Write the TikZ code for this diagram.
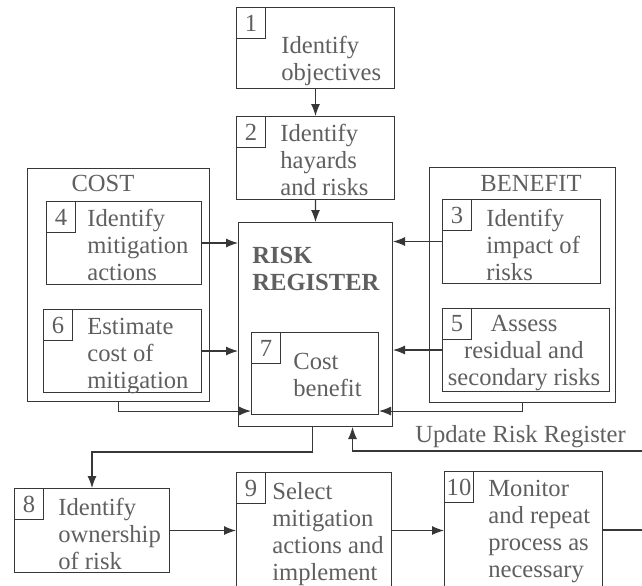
\documentclass[tikz,border=0pt]{standalone}
\usepackage{fontspec}
\setmainfont{Liberation Serif}
\usetikzlibrary{arrows.meta}
\definecolor{txtgray}{RGB}{95,95,95}
\definecolor{linegray}{RGB}{55,55,55}
\begin{document}
\begin{tikzpicture}[
                x = 0.02cm, y = -0.02cm,
                box/.style = {draw = linegray, line width = 0.6pt, anchor = north west, inner sep = 0mm},
                num/.style = {draw = linegray, line width = 0.6pt, anchor = north west, inner sep = 0mm,
                              minimum width = 0.58cm, minimum height = 0.62cm, text = txtgray,
                              font = \fontsize{14}{15.4}\selectfont},
                txt/.style = {anchor = north west, align = left, inner sep = 0mm, text = txtgray,
                              font = \fontsize{14}{15.4}\selectfont},
                arr/.style = {draw = linegray, line width = 0.6pt, -{Latex[length = 2.4mm, width = 1.8mm]}},
                ln/.style = {draw = linegray, line width = 0.6pt},
            ]
            \useasboundingbox (0,0) rectangle (642,585);

            % top column
            \node (b1) [box, minimum width = 3.16cm, minimum height = 1.62cm] at (236,7) {};
            \node (n1) [num] at (b1.north west) {1};
            \node (t1) [txt] at (281,36) {Identify\\objectives};

            \node (b2) [box, minimum width = 3.16cm, minimum height = 1.66cm] at (236,116) {};
            \node (n2) [num] at (b2.north west) {2};
            \node (t2) [txt] at (280,124) {Identify\\hayards\\and risks};

            % risk register
            \node (rr) [box, minimum width = 3.08cm, minimum height = 4.08cm] at (238,222) {};
            \node (trr) [txt, font = \fontsize{14}{15.4}\selectfont\bfseries] at (252,247) {RISK\\REGISTER};
            \node (b7) [box, minimum width = 2.54cm, minimum height = 1.64cm] at (251,332) {};
            \node (n7) [num] at (b7.north west) {7};
            \node (t7) [txt] at (293,353) {Cost\\benefit};

            % cost side
            \node (cost) [box, minimum width = 3.64cm, minimum height = 4.66cm] at (27,168) {};
            \node (tcost) [txt, anchor = north] at (103,175) {COST};
            \node (b4) [box, minimum width = 3.10cm, minimum height = 1.66cm] at (46,201) {};
            \node (n4) [num] at (b4.north west) {4};
            \node (t4) [txt] at (87,209) {Identify\\mitigation\\actions};
            \node (b6) [box, minimum width = 3.16cm, minimum height = 1.66cm] at (43,309) {};
            \node (n6) [num] at (b6.north west) {6};
            \node (t6) [txt] at (87,318) {Estimate\\cost of\\mitigation};

            % benefit side
            \node (ben) [box, minimum width = 3.72cm, minimum height = 4.70cm] at (429,167) {};
            \node (tben) [txt, anchor = north] at (531,175) {BENEFIT};
            \node (b3) [box, minimum width = 3.16cm, minimum height = 1.68cm] at (442,199) {};
            \node (n3) [num] at (b3.north west) {3};
            \node (t3) [txt] at (486,209) {Identify\\impact of\\risks};
            \node (b5) [box, minimum width = 3.34cm, minimum height = 1.66cm] at (442,308) {};
            \node (n5) [num] at (b5.north west) {5};
            \node (t5) [txt, anchor = north, align = center] at (524,315) {Assess\\residual and\\secondary risks};

            % bottom row
            \node (b8) [box, minimum width = 3.10cm, minimum height = 1.68cm] at (14,488) {};
            \node (n8) [num] at (b8.north west) {8};
            \node (t8) [txt] at (58,498) {Identify\\ownership\\of risk};
            \node (b9) [box, minimum width = 3.10cm, minimum height = 2.56cm] at (236,472) {};
            \node (n9) [num] at (b9.north west) {9};
            \node (t9) [txt] at (272,482) {Select\\mitigation\\actions and\\implement};
            \node (b10) [box, minimum width = 3.16cm, minimum height = 2.58cm] at (444,471) {};
            \node (n10) [num] at (b10.north west) {10};
            \node (t10) [txt] at (488,480) {Monitor\\and repeat\\process as\\necessary};

            \node (upd) [txt, anchor = west] at (415,437) {Update Risk Register};

            \path[arr] (b1) -- (b2);
            \path[arr] (b2) -- (rr);

            \path[arr] (b4.east) -- (b4.east -| rr.west);
            \path[arr] (b6.east) -- (b6.east -| rr.west);
            \path[arr] (b3.west) -- (b3.west -| rr.east);
            \path[arr] (b5.west) -- (b5.west -| rr.east);

            \path[arr] (cost.south) |- ([yshift = 0.08cm]b7.south west);
            \path[arr] (ben.south) |- ([yshift = 0.08cm]b7.south east);

            \path[arr] ([xshift = -0.06cm]rr.south) -- ++(0,25) -| (b8.north);
            \path[arr] (b8.east) -- (b8.east -| b9.west);
            \path[arr] ([yshift = 0.12cm]b9.east) -- ([yshift = 0.12cm]b9.east -| b10.west);

            \path[arr] ([yshift = 0.12cm]b10.east) -- ++(48,0) -- ++(0,-79) -| ([xshift = 0.74cm]rr.south);
        \end{tikzpicture}
\end{document}
